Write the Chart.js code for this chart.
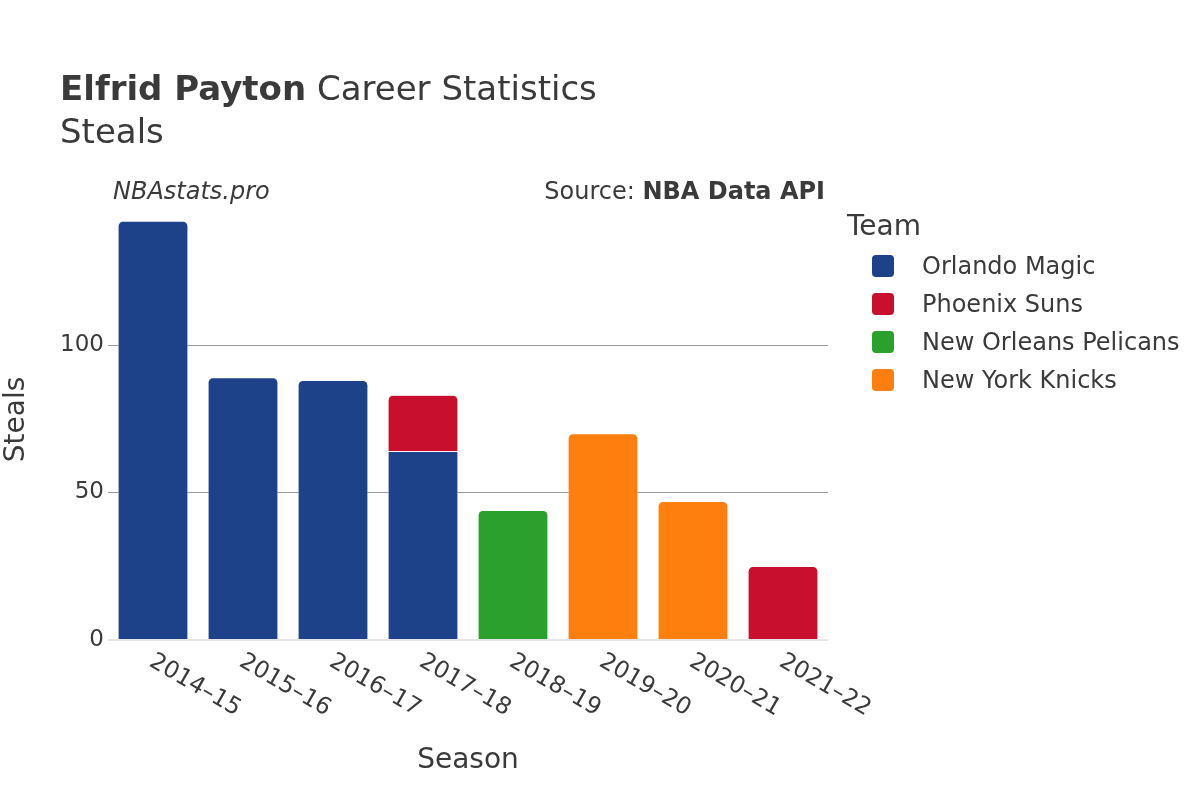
<!DOCTYPE html>
<html>
<head>
<meta charset="utf-8">
<script src="https://cdn.jsdelivr.net/npm/chart.js@4"></script>
<style>
  body { margin: 0; background: #fff; }
  canvas { display: block; }
</style>
</head>
<body>
<canvas id="grafico" width="1200" height="800"></canvas>
<script>
// Dados do gráfico
const seasons = ['2014–15', '2015–16', '2016–17', '2017–18', '2018–19', '2019–20', '2020–21', '2021–22'];
const teams = ['Orlando Magic', 'Phoenix Suns', 'New Orleans Pelicans', 'New York Knicks'];
const orlandoMagic = [142, 89, 88, 64, null, null, null, null];
const phoenixSuns = [null, null, null, 19, null, null, null, 25];
const newOrleansPelicans = [null, null, null, null, 44, null, null, null];
const newYorkKnicks = [null, null, null, null, null, 70, 47, null];
const yTicks = [0, 50, 100];

const teamColors = ['#1d428a', '#c8102e', '#2ca02c', '#ff7f0e'];
const seriesData = [orlandoMagic, phoenixSuns, newOrleansPelicans, newYorkKnicks];
const fonte = 'DejaVu Sans';
const corTexto = '#3a3a3a';

// só a barra de cima de cada pilha tem cantos arredondados
function cantos(ctx) {
    const i = ctx.dataIndex;
    for (let d = seriesData.length - 1; d > ctx.datasetIndex; d--) {
        if (seriesData[d][i] != null) return 0;
    }
    return { topLeft: 5, topRight: 5, bottomLeft: 0, bottomRight: 0 };
}

const textos = {
    id: 'textos',
    afterDraw(chart) {
        const c = chart.ctx;
        c.save();
        c.fillStyle = corTexto;
        c.textBaseline = 'alphabetic';
        c.textAlign = 'left';

        // título
        c.font = 'bold 34px "' + fonte + '"';
        c.fillText('Elfrid Payton', 60, 100);
        const w = c.measureText('Elfrid Payton').width;
        c.font = '34px "' + fonte + '"';
        c.fillText(' Career Statistics', 60 + w, 100);
        c.fillText('Steals', 60, 143);

        // marca e fonte
        c.font = 'italic 24px "' + fonte + '"';
        c.fillText('NBAstats.pro', 113, 199);
        c.textAlign = 'right';
        c.font = 'bold 24px "' + fonte + '"';
        c.fillText('NBA Data API', 825, 199);
        const wb = c.measureText('NBA Data API').width;
        c.font = '24px "' + fonte + '"';
        c.fillText('Source: ', 825 - wb, 199);

        // títulos dos eixos
        const area = chart.chartArea;
        c.textAlign = 'center';
        c.textBaseline = 'middle';
        c.font = '28px "' + fonte + '"';
        c.fillText('Season', (area.left + area.right) / 2, 761);
        c.save();
        c.translate(17, (area.top + area.bottom) / 2);
        c.rotate(-Math.PI / 2);
        c.fillText('Steals', 0, 0);
        c.restore();

        // rótulos do eixo x, inclinados
        const xs = chart.scales.x;
        c.font = '23.5px "' + fonte + '"';
        c.textAlign = 'left';
        seasons.forEach((s, i) => {
            c.save();
            c.translate(xs.getPixelForTick(i) - 2, 660);
            c.rotate(Math.PI / 6);
            c.fillText(s, 0, 0);
            c.restore();
        });

        // legenda
        c.textBaseline = 'middle';
        c.font = '28px "' + fonte + '"';
        c.fillText('Team', 847, 228);
        c.font = '24px "' + fonte + '"';
        chart.data.datasets.forEach((ds, i) => {
            const y = 266 + i * 38;
            c.fillStyle = ds.backgroundColor;
            c.beginPath();
            c.roundRect(872, y - 11, 22, 22, 4);
            c.fill();
            c.fillStyle = corTexto;
            c.fillText(ds.label, 922, y + 2);
        });
        c.restore();
    }
};

const ctx = document.getElementById('grafico').getContext('2d');
const grafico = new Chart(ctx, {
    type: 'bar',
    data: {
        labels: seasons,
        datasets: teams.map((t, i) => ({
            label: t,
            data: seriesData[i],
            backgroundColor: teamColors[i],
            borderColor: 'rgba(255,255,255,0.6)',
            borderWidth: 0.7,
            borderSkipped: 'bottom',
            borderRadius: cantos,
            categoryPercentage: 1,
            barPercentage: 0.78
        }))
    },
    options: {
        responsive: false,
        animation: false,
        layout: { padding: { top: 199, right: 372, left: 0, bottom: 0 } },
        plugins: {
            legend: { display: false },
            title: { display: false },
            tooltip: { enabled: false }
        },
        scales: {
            x: {
                stacked: true,
                grid: { display: false },
                border: { display: false },
                ticks: { display: false },
                afterFit(scale) { scale.height = 800 - 640; }
            },
            y: {
                stacked: true,
                min: 0,
                max: 149.5,
                afterBuildTicks(scale) {
                    scale.ticks = yTicks.map(v => ({ value: v }));
                },
                afterFit(scale) { scale.width = 108; },
                border: { display: false },
                grid: {
                    drawTicks: false,
                    color: c => c.tick && c.tick.value === 0 ? '#e6e6e6' : '#9a9a9a',
                    lineWidth: c => c.tick && c.tick.value === 0 ? 2 : 1
                },
                ticks: {
                    padding: 4,
                    color: corTexto,
                    font: { family: fonte, size: 23 }
                }
            }
        }
    },
    plugins: [textos]
});
</script>
</body>
</html>
